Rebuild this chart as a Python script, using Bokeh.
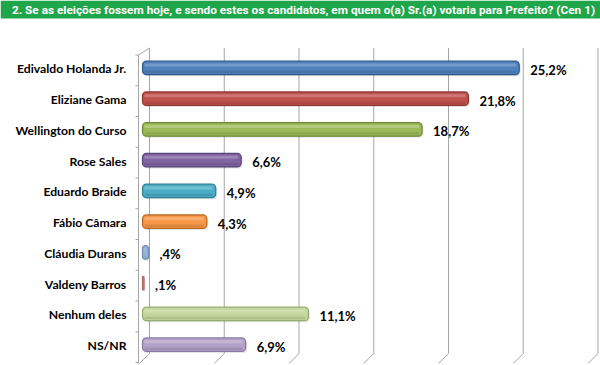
from bokeh.plotting import figure
from bokeh.models import Range1d, ColumnDataSource
from bokeh.core.properties import value
from bokeh.embed import file_html
from bokeh.resources import INLINE

# ---- data ----
TITLE = "2. Se as eleições fossem hoje, e sendo estes os candidatos, em quem o(a) Sr.(a) votaria para Prefeito? (Cen 1)"
CANDIDATES = ["Edivaldo Holanda Jr.", "Eliziane Gama", "Wellington do Curso", "Rose Sales",
              "Eduardo Braide", "Fábio Câmara", "Cláudia Durans", "Valdeny Barros",
              "Nenhum deles", "NS/NR"]
PERCENTS = [25.2, 21.8, 18.7, 6.6, 4.9, 4.3, 0.4, 0.1, 11.1, 6.9]
GRID_TICKS = [0, 5, 10, 15, 20, 25, 30]

# ---- style ----
FILL = ["#4F81BD", "#C0504D", "#9BBB59", "#8064A2", "#4BACC6", "#F79646",
        "#95B3D7", "#D99694", "#C3D69B", "#B3A2C7"]
EDGE = ["#2F5686", "#8C3533", "#6B8736", "#59437A", "#2E7F94", "#B8651F",
        "#6E8DB8", "#B06866", "#98AC70", "#8A78A3"]

FIG_W, FIG_H = 600, 365
PX, PY = 14.95, 30.75          # px per percent, px per category slot
X0, Y0 = 142, 362              # px of bar start / front floor
N = len(CANDIDATES)

def dx(px):
    return px / PX

def dy(px):
    return px / PY

p = figure(width=FIG_W, height=FIG_H, output_backend="svg", toolbar_location=None,
           x_range=Range1d(-X0 / PX, (FIG_W - X0) / PX),
           y_range=Range1d(-(FIG_H - Y0) / PY, Y0 / PY),
           min_border=0, min_border_left=0, min_border_right=0,
           min_border_top=0, min_border_bottom=0)
p.axis.visible = False
p.grid.visible = False
p.outline_line_color = None
p.background_fill_color = "white"
p.border_fill_color = "white"

GRID_COL = "#a6a6a6"
# back wall grid lines
back_x = [t + dx(7) for t in GRID_TICKS]
p.segment(x0=back_x, y0=[dy(9)] * len(GRID_TICKS), x1=back_x, y1=[N + dy(7)] * len(GRID_TICKS),
          line_color=GRID_COL, line_width=1)
# floor diagonals
p.segment(x0=back_x, y0=[dy(9)] * len(GRID_TICKS),
          x1=[t + dx(-3) for t in GRID_TICKS], y1=[dy(-1)] * len(GRID_TICKS),
          line_color=GRID_COL, line_width=1)
# left wall
p.segment(x0=[dx(-4)], y0=[dy(-1)], x1=[dx(-4)], y1=[N], line_color=GRID_COL, line_width=1)
p.segment(x0=[dx(-4)], y0=[N], x1=[dx(7)], y1=[N + dy(7)], line_color=GRID_COL, line_width=1)
slots = list(range(N + 1))
p.segment(x0=[dx(-7)] * len(slots), y0=slots, x1=[dx(-4)] * len(slots), y1=slots,
          line_color=GRID_COL, line_width=1)

# bars
yc = [N - i - 0.5 + dy(2.5) for i in range(N)]
h = dy(13.5)
src = ColumnDataSource(dict(y=yc, right=PERCENTS, fill=FILL, edge=EDGE,
                            name=CANDIDATES,
                            label=[("%.1f%%" % v).replace(".", ",").lstrip("0") for v in PERCENTS]))
# soft shadow
p.hbar(y=[v - dy(1.5) for v in yc], left=dx(1), right=[v + dx(1.5) for v in PERCENTS],
       height=h, fill_color="#000000", fill_alpha=0.10, line_color=None, border_radius=4)
p.hbar(y="y", left=0, right="right", height=h, fill_color="fill", line_color="edge",
       line_width=1.2, border_radius=4, source=src)
# highlight / shade bands
p.hbar(y=[v + h * 0.22 for v in yc], left=dx(2), right=[max(v - dx(3), dx(2)) for v in PERCENTS],
       height=h * 0.22, fill_color="white", fill_alpha=0.22, line_color=None)
p.hbar(y=[v - h * 0.3 for v in yc], left=dx(2), right=[max(v - dx(3), dx(2)) for v in PERCENTS],
       height=h * 0.18, fill_color="black", fill_alpha=0.10, line_color=None)

# category labels
p.text(x=dx(-16), y="y", text="name", source=src, text_align="right", text_baseline="middle",
       text_font=value("Lato"), text_font_style="bold", text_font_size="12.2px", text_color="black",
       y_offset=1)
# value labels
p.text(x="right", y="y", text="label", source=src, x_offset=11, y_offset=2,
       text_align="left", text_baseline="middle",
       text_font=value("Lato"), text_font_style="bold", text_font_size="13px", text_color="black")

# title bar
p.quad(left=[p.x_range.start], right=[p.x_range.end], top=[p.y_range.end],
       bottom=[p.y_range.end - dy(18)], fill_color="#1FA64A", line_color=None)
p.text(x=[(p.x_range.start + p.x_range.end) / 2 + dx(3)], y=[p.y_range.end - dy(9)], text=[TITLE],
       text_align="center", text_baseline="middle",
       text_font=value("Roboto"),
       text_font_style="bold", text_font_size="11.8px", text_color="white")

open("out.html", "w").write(file_html(p, INLINE))
